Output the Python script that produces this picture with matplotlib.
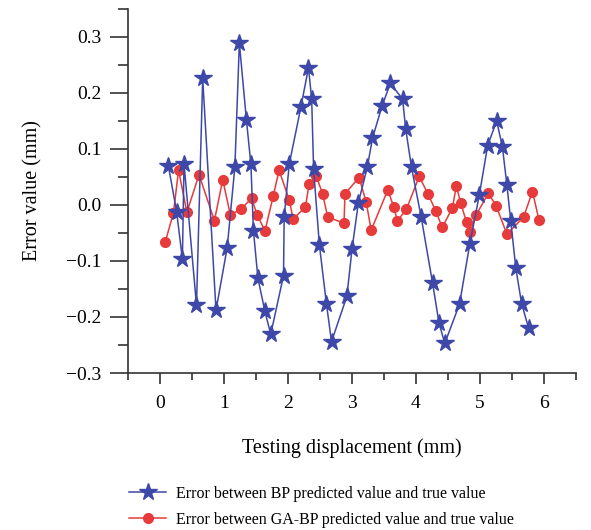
import matplotlib

matplotlib.use("Agg")
import matplotlib.pyplot as plt
from matplotlib.lines import Line2D
from matplotlib.ticker import MultipleLocator, FuncFormatter

# BP network error (stars)
bp_x = [0.13, 0.26, 0.35, 0.375, 0.57, 0.667, 0.875, 1.05, 1.17, 1.24,
        1.35, 1.42, 1.46, 1.53, 1.64, 1.73, 1.93, 1.94, 2.02, 2.20,
        2.32, 2.37, 2.40, 2.49, 2.60, 2.68, 2.92, 3.00, 3.10, 3.24,
        3.32, 3.47, 3.60, 3.79, 3.84, 3.93, 4.08, 4.26, 4.36, 4.45,
        4.68, 4.84, 4.99, 5.12, 5.26, 5.35, 5.42, 5.48, 5.56, 5.65, 5.76]
bp_err = [0.070, -0.012, -0.097, 0.074, -0.179, 0.226, -0.188, -0.076, 0.068, 0.289,
          0.152, 0.073, -0.046, -0.131, -0.190, -0.231, -0.126, -0.021, 0.073, 0.174,
          0.245, 0.189, 0.064, -0.071, -0.176, -0.244, -0.163, -0.079, 0.004, 0.068,
          0.119, 0.177, 0.217, 0.189, 0.135, 0.067, -0.021, -0.140, -0.211, -0.247,
          -0.177, -0.070, 0.018, 0.106, 0.150, 0.104, 0.036, -0.028, -0.113, -0.176, -0.220]

# GA-BP network error (circles)
ga_x = [0.08, 0.21, 0.29, 0.42, 0.61, 0.85, 0.98, 1.10, 1.27, 1.43,
        1.52, 1.64, 1.77, 1.86, 2.02, 2.08, 2.27, 2.33, 2.44, 2.54,
        2.62, 2.875, 2.89, 3.11, 3.22, 3.30, 3.56, 3.65, 3.71, 3.85,
        4.05, 4.19, 4.31, 4.41, 4.57, 4.63, 4.70, 4.79, 4.85, 4.94,
        5.13, 5.25, 5.42, 5.68, 5.82, 5.92]
ga_err = [-0.067, -0.014, 0.062, -0.013, 0.054, -0.028, 0.045, -0.018, -0.007, 0.012,
          -0.018, -0.046, 0.016, 0.062, 0.009, -0.025, -0.004, 0.037, 0.052, 0.020,
          -0.021, -0.033, 0.020, 0.049, 0.006, -0.045, 0.027, -0.003, -0.028, -0.008,
          0.051, 0.019, -0.011, -0.040, -0.005, 0.034, 0.003, -0.031, -0.048, -0.018,
          0.021, -0.001, -0.052, -0.022, 0.024, -0.026]

labels = ["Error between BP predicted value and true value",
          "Error between GA-BP predicted value and true value"]

blue = "#3D48A8"
red = "#E63B3A"
axis_col = "#333333"

plt.rcParams["font.family"] = ["Liberation Serif", "DejaVu Serif"]

fig = plt.figure(figsize=(5.91, 5.30), dpi=100)
ax = fig.add_axes([0.2166, 0.2962, 0.758, 0.687])

ax.plot(bp_x, bp_err, color=blue, lw=1.1, marker="*", ms=13, mec=blue, mfc=blue, zorder=3)
ax.plot(ga_x, ga_err, color=red, lw=1.1, marker="o", ms=7, mec=red, mfc=red, zorder=2)

ax.set_xlim(-0.5, 6.5)
ax.set_ylim(-0.3, 0.35)
ax.xaxis.set_major_locator(MultipleLocator(1))
ax.xaxis.set_minor_locator(MultipleLocator(0.5))
ax.yaxis.set_major_locator(MultipleLocator(0.1))
ax.yaxis.set_minor_locator(MultipleLocator(0.05))
ax.xaxis.set_major_formatter(FuncFormatter(lambda v, p: f"{v:.0f}"))
ax.yaxis.set_major_formatter(FuncFormatter(lambda v, p: f"{v:.1f}".replace("-", "\u2212")))

for side in ("top", "right"):
    ax.spines[side].set_visible(False)
for side in ("left", "bottom"):
    ax.spines[side].set_color(axis_col)
    ax.spines[side].set_linewidth(1.2)

ax.tick_params(axis="x", which="major", direction="out", length=8, width=1.2,
               color=axis_col, labelsize=14, pad=8)
ax.tick_params(axis="x", which="minor", direction="out", length=5, width=1.2, color=axis_col)
ax.tick_params(axis="y", which="major", direction="out", length=13, width=1.2,
               color=axis_col, labelsize=14, pad=6)
ax.tick_params(axis="y", which="minor", direction="out", length=7, width=1.2, color=axis_col)

ax.set_xlabel("Testing displacement (mm)", fontsize=14.5, labelpad=19)
ax.set_ylabel("Error value (mm)", fontsize=14.5, labelpad=17)

handles = [
    Line2D([], [], color=blue, lw=1.1, marker="*", ms=13),
    Line2D([], [], color=red, lw=1.1, marker="o", ms=7),
]
fig.legend(handles, labels, loc="upper left", bbox_to_anchor=(0.208, 0.095),
           frameon=False, fontsize=11.5, handlelength=2.3, handletextpad=0.6,
           labelspacing=0.6, borderaxespad=0)

fig.savefig("out.png", dpi=100)
